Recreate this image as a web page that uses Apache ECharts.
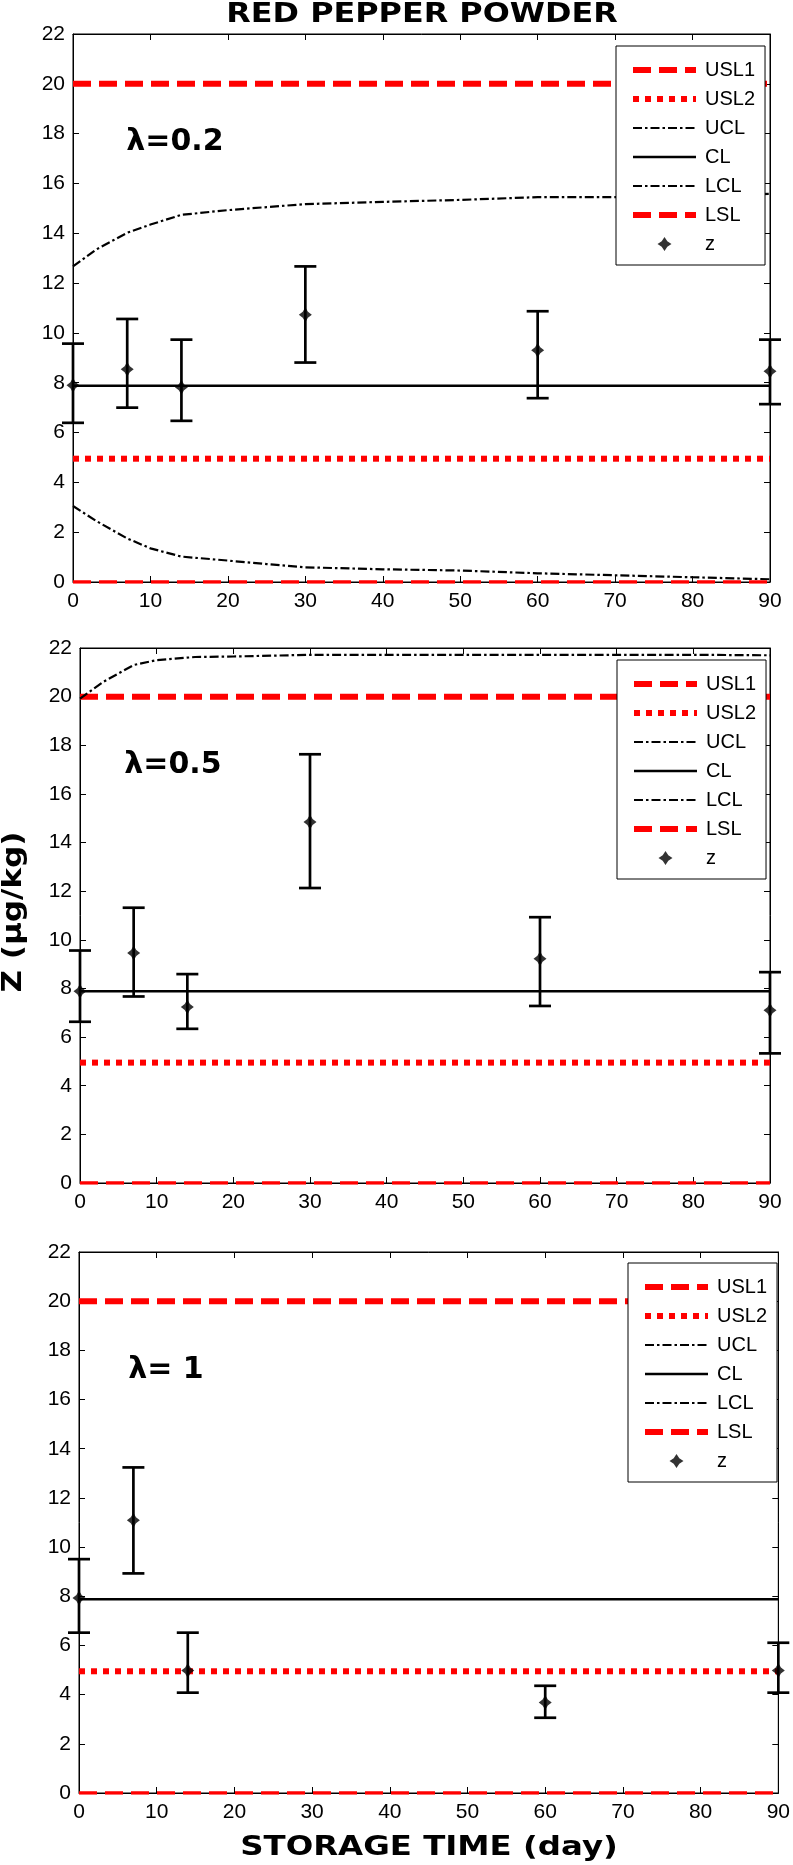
<!DOCTYPE html>
<html>
<head>
<meta charset="utf-8">
<script src="https://cdn.jsdelivr.net/npm/echarts@6/dist/echarts.min.js"></script>
<style>html,body{margin:0;padding:0;background:#fff;}#c{width:793px;height:1865px;}</style>
</head>
<body>
<div id="c"></div>
<script>
// ---------- data ----------
const titleText = 'RED PEPPER POWDER';
const yTitle = 'Z (µg/kg)';
const xTitle = 'STORAGE TIME (day)';
const lambdaLabels = ['λ=0.2', 'λ=0.5', 'λ= 1'];
const legendNames = ['USL1', 'USL2', 'UCL', 'CL', 'LCL', 'LSL', 'z'];

const USL1 = 20, USL2 = 4.95, LSL = 0, CL = 7.88;
const xMin = 0, xMax = 90, xStep = 10;
const yMin = 0, yMax = 22, yStep = 2;

// lambda = 0.2
const days1 = [0, 7, 14, 30, 60, 90];
const z1 = [7.90, 8.54, 7.82, 10.73, 9.30, 8.46];
const lo1 = [6.39, 7.00, 6.47, 8.81, 7.38, 7.14];
const hi1 = [9.57, 10.56, 9.73, 12.67, 10.87, 9.73];
const limDays1 = [0, 3, 7, 10, 14, 20, 25, 30, 40, 50, 60, 70, 80, 90];
const ucl1 = [12.67, 13.35, 14.02, 14.35, 14.74, 14.93, 15.05, 15.17, 15.26, 15.34, 15.45, 15.45, 15.53, 15.58];
const lcl1 = [3.05, 2.45, 1.75, 1.35, 1.02, 0.86, 0.72, 0.59, 0.51, 0.46, 0.35, 0.27, 0.19, 0.11];

// lambda = 0.5
const days2 = [0, 7, 14, 30, 60, 90];
const z2 = [7.89, 9.46, 7.24, 14.85, 9.22, 7.10];
const lo2 = [6.63, 7.67, 6.34, 12.13, 7.28, 5.33];
const hi2 = [9.56, 11.32, 8.59, 17.63, 10.93, 8.67];
const limDays2 = [0, 3, 7, 10, 15, 20, 30, 40, 50, 60, 70, 80, 90];
const ucl2 = [19.92, 20.6, 21.3, 21.5, 21.63, 21.65, 21.72, 21.72, 21.72, 21.72, 21.72, 21.72, 21.70];
const lcl2 = []; // below the plotted range

// lambda = 1
const days3 = [0, 7, 14, 60, 90];
const z3 = [7.93, 11.09, 4.98, 3.68, 4.98];
const lo3 = [6.52, 8.93, 4.08, 3.06, 4.08];
const hi3 = [9.51, 13.24, 6.52, 4.36, 6.11];
const limDays3 = [];
const ucl3 = []; // outside the plotted range
const lcl3 = [];

// ---------- build ----------
const panels = [
  {days: days1, z: z1, lo: lo1, hi: hi1, limDays: limDays1, ucl: ucl1, lcl: lcl1,
   grid: {left: 73, top: 34, width: 697, height: 548}, legend: {left: 616, top: 46},
   lam: {x: 175, y: 142}},
  {days: days2, z: z2, lo: lo2, hi: hi2, limDays: limDays2, ucl: ucl2, lcl: lcl2,
   grid: {left: 80, top: 648, width: 690, height: 535}, legend: {left: 617, top: 660},
   lam: {x: 173, y: 765}},
  {days: days3, z: z3, lo: lo3, hi: hi3, limDays: limDays3, ucl: ucl3, lcl: lcl3,
   grid: {left: 79, top: 1252, width: 704, height: 541}, legend: {left: 628, top: 1263},
   lam: {x: 166, y: 1370}}
];

const FONT = 'Liberation Sans, Arial, sans-serif';
const starPath = 'path://M0,-10 L4,-4 L10,0 L4,4 L0,10 L-4,4 L-10,0 L-4,-4 Z';
const styles = {
  USL1: {color: '#ff0000', width: 6, type: [18, 8]},
  USL2: {color: '#ff0000', width: 6, type: [6, 6]},
  UCL: {color: '#000', width: 2.2, type: [9, 3, 2.5, 3]},
  CL: {color: '#000', width: 2.5, type: 'solid'},
  LCL: {color: '#000', width: 2.2, type: [9, 3, 2.5, 3]},
  LSL: {color: '#ff0000', width: 3.5, type: [18, 8]}
};

const grids = [], xAxes = [], yAxes = [], series = [], legends = [], graphics = [];
const hline = (v) => [[xMin, v], [xMax, v]];
const zip = (xs, ys) => xs.map((x, i) => [x, ys[i]]);

panels.forEach((p, i) => {
  grids.push(Object.assign({show: true, borderColor: '#000', borderWidth: 1, backgroundColor: '#fff'}, p.grid));
  const axBase = {
    gridIndex: i, type: 'value', splitLine: {show: false},
    axisLine: {show: true, onZero: false, lineStyle: {color: '#000', width: 1}},
    axisTick: {show: true, inside: true, length: 6, lineStyle: {color: '#000', width: 1}}
  };
  xAxes.push(Object.assign({}, axBase, {position: 'bottom', min: xMin, max: xMax, interval: xStep,
    axisLabel: {color: '#000', fontSize: 21, fontFamily: FONT, margin: 9}}));
  xAxes.push(Object.assign({}, axBase, {position: 'top', min: xMin, max: xMax, interval: xStep,
    axisLabel: {show: false}}));
  yAxes.push(Object.assign({}, axBase, {position: 'left', min: yMin, max: yMax, interval: yStep,
    axisLabel: {color: '#000', fontSize: 21, fontFamily: FONT, margin: 8}}));
  yAxes.push(Object.assign({}, axBase, {position: 'right', min: yMin, max: yMax, interval: yStep,
    axisLabel: {show: false}}));
  const xi = i * 2, yi = i * 2;
  const lineSeries = (name, data) => ({
    name, type: 'line', xAxisIndex: xi, yAxisIndex: yi, data, symbol: 'none',
    lineStyle: Object.assign({cap: 'butt'}, styles[name]), itemStyle: {color: styles[name].color},
    animation: false, silent: true, z: 3
  });
  series.push(lineSeries('USL1', hline(USL1)));
  series.push(lineSeries('USL2', hline(USL2)));
  series.push(lineSeries('UCL', zip(p.limDays, p.ucl)));
  series.push(lineSeries('CL', hline(CL)));
  series.push(lineSeries('LCL', zip(p.limDays, p.lcl)));
  series.push(lineSeries('LSL', hline(LSL)));
  series.push({
    name: 'errbar' + i, type: 'custom', xAxisIndex: xi, yAxisIndex: yi,
    data: p.days.map((d, k) => [d, p.lo[k], p.hi[k]]),
    animation: false, silent: true, z: 4, clip: false,
    renderItem: (params, api) => {
      const a = api.coord([api.value(0), api.value(1)]);
      const b = api.coord([api.value(0), api.value(2)]);
      const hw = 11;
      const st = {stroke: '#000', lineWidth: 2.7};
      return {type: 'group', children: [
        {type: 'line', shape: {x1: a[0], y1: a[1], x2: b[0], y2: b[1]}, style: st},
        {type: 'line', shape: {x1: a[0] - hw, y1: a[1], x2: a[0] + hw, y2: a[1]}, style: st},
        {type: 'line', shape: {x1: b[0] - hw, y1: b[1], x2: b[0] + hw, y2: b[1]}, style: st}
      ]};
    }
  });
  series.push({
    name: 'z', type: 'scatter', xAxisIndex: xi, yAxisIndex: yi,
    data: zip(p.days, p.z), symbol: starPath, symbolSize: [13, 15],
    itemStyle: {color: '#000'}, animation: false, silent: true, z: 5, clip: false
  });
  legends.push({
    orient: 'vertical', left: p.legend.left, top: p.legend.top,
    padding: [14, 10, 11, 14], itemGap: 9, itemWidth: 63, itemHeight: 14,
    backgroundColor: '#fff', borderColor: '#000', borderWidth: 1, borderRadius: 0,
    selectedMode: false, z: 10,
    textStyle: {fontSize: 20, fontFamily: FONT, color: '#000', padding: [0, 0, 0, 4]},
    data: legendNames.map(n => n === 'z'
      ? {name: n, icon: starPath, itemStyle: {color: '#000'}, textStyle: {padding: [0, 0, 0, 4]}}
      : {name: n, itemStyle: {opacity: 0},
         lineStyle: {color: styles[n].color, width: n === 'LSL' ? 6 : styles[n].width, type: styles[n].type, opacity: 1}})
  });
  graphics.push({type: 'text', x: p.lam.x, y: p.lam.y, z: 20,
    style: {text: lambdaLabels[i], font: 'bold 30px "DejaVu Sans"', fill: '#000',
      align: 'center', verticalAlign: 'middle', textAlign: 'center', textVerticalAlign: 'middle'}});
});

graphics.push({type: 'text', x: 422, y: 15, scaleX: 1.18, z: 20,
  style: {text: titleText, font: 'bold 27px "DejaVu Sans"', fill: '#000',
    align: 'center', verticalAlign: 'middle', textAlign: 'center', textVerticalAlign: 'middle'}});
graphics.push({type: 'text', x: 429, y: 1848, scaleX: 1.2, z: 20,
  style: {text: xTitle, font: 'bold 27px "DejaVu Sans"', fill: '#000',
    align: 'center', verticalAlign: 'middle', textAlign: 'center', textVerticalAlign: 'middle'}});
graphics.push({type: 'text', x: 14, y: 912, rotation: Math.PI / 2, scaleX: 1.15, z: 20,
  style: {text: yTitle, font: 'bold 27px "DejaVu Sans"', fill: '#000',
    align: 'center', verticalAlign: 'middle', textAlign: 'center', textVerticalAlign: 'middle'}});

const chart = echarts.init(document.getElementById('c'), null, {renderer: 'canvas'});
chart.setOption({
  backgroundColor: '#fff', animation: false,
  grid: grids, xAxis: xAxes, yAxis: yAxes, series, legend: legends, graphic: graphics
});
</script>
</body>
</html>
